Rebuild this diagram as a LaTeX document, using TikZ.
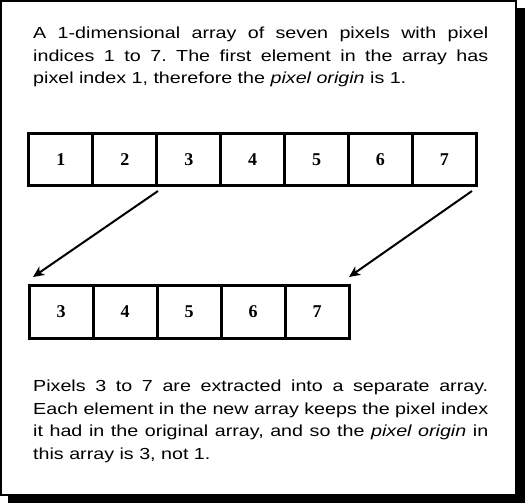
\documentclass[tikz,border=0pt]{standalone}
\usepackage{fontspec}
\setmainfont{Liberation Sans}[FakeStretch=1.23]
\newfontfamily\numfont{Liberation Serif}
\usetikzlibrary{arrows.meta}
\tikzset{
  cell/.style={draw=black, line width=3pt, minimum width=64pt, minimum height=52pt, inner sep=0pt, font=\numfont\bfseries\fontsize{18}{20}\selectfont},
  para/.style={anchor=north west, inner sep=0pt, text width=455pt, align=justify, font=\fontsize{16}{22.6}\selectfont\frenchspacing},
  conn/.style={line width=2pt, -{Stealth[length=11pt,width=10pt,inset=3pt]}}
}
\begin{document}
\begin{tikzpicture}[x=1pt,y=-1pt]
\useasboundingbox (0,0) rectangle (525,503);
\fill[black] (8,8) rectangle (525,503);
\draw[line width=2pt, fill=white] (1,1) rectangle (516,495);
\node[para] (top) at (33,27) {A 1-dimensional array of seven pixels with pixel\linebreak indices 1 to 7. The first element in the array has\linebreak pixel index 1, therefore the \textit{pixel origin} is 1.};
\foreach \i in {1,...,7} {
  \node[cell] (a\i) at ({29+63.9*(\i-0.5)},159.5) {\i};
}
\foreach \i [count=\k] in {3,...,7} {
  \node[cell, minimum height=53pt] (b\k) at ({29+64*(\k-0.5)},311.5) {\i};
}
\coordinate (s1) at (158,191);
\coordinate (t1) at (33,277);
\coordinate (s2) at (472,191);
\coordinate (t2) at (349,277);
\draw[conn] (s1) -- (t1);
\draw[conn] (s2) -- (t2);
\node[para] (bot) at (33,380) {Pixels 3 to 7 are extracted into a separate array.\linebreak Each element in the new array keeps the pixel index\linebreak it had in the original array, and so the \textit{pixel origin} in\linebreak this array is 3, not 1.};
\end{tikzpicture}
\end{document}
